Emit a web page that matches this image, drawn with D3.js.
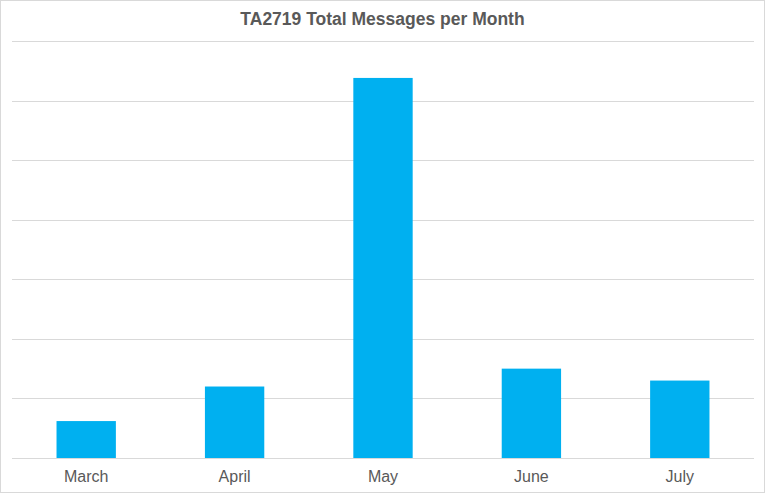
<!DOCTYPE html>
<html><head><meta charset="utf-8">
<script src="https://cdn.jsdelivr.net/npm/d3@7"></script>
<style>body{margin:0;background:#fff}svg{display:block}</style>
</head><body><svg id="c" width="765" height="493"></svg>
<script>
const months = ["March","April","May","June","July"];
const messages = [31, 60, 319, 75, 65];
const yTicks = [0,50,100,150,200,250,300,350];
const title = "TA2719 Total Messages per Month";

const svg = d3.select("#c");
const W = 765, H = 493;
const m = {left: 12, right: 11, top: 41, bottom: 35};
svg.append("rect").attr("x",0.5).attr("y",0.5).attr("width",W-1).attr("height",H-1)
  .attr("fill","#fff").attr("stroke","#d9d9d9");

const x = d3.scaleBand().domain(months).range([m.left, W-m.right]).paddingInner(0.6).paddingOuter(0.3);
const y = d3.scaleLinear().domain([0,350]).range([H-m.bottom, m.top]);

svg.append("g").selectAll("line").data(yTicks).join("line")
  .attr("x1", m.left).attr("x2", W-m.right)
  .attr("y1", d=>Math.round(y(d))+0.5).attr("y2", d=>Math.round(y(d))+0.5)
  .attr("stroke","#d9d9d9").attr("stroke-width",1);

svg.append("g").selectAll("rect").data(months).join("rect")
  .attr("x", d=>x(d)).attr("width", x.bandwidth())
  .attr("y", (d,i)=>y(messages[i])).attr("height", (d,i)=>y(0)-y(messages[i]))
  .attr("fill","#00b0f0");

const xAxis = svg.append("g").attr("transform",`translate(0,${H-m.bottom})`)
  .call(d3.axisBottom(x).tickSize(0).tickPadding(13));
xAxis.select(".domain").remove();
xAxis.selectAll("text").attr("font-family","Liberation Sans, Arial, sans-serif")
  .attr("font-size","16px").attr("fill","#595959");

svg.append("text").attr("x", W/2).attr("y", 25).attr("text-anchor","middle")
  .attr("font-family","Liberation Sans, Arial, sans-serif").attr("font-weight","bold")
  .attr("font-size","17.5px").attr("fill","#595959").text(title);
</script></body></html>
